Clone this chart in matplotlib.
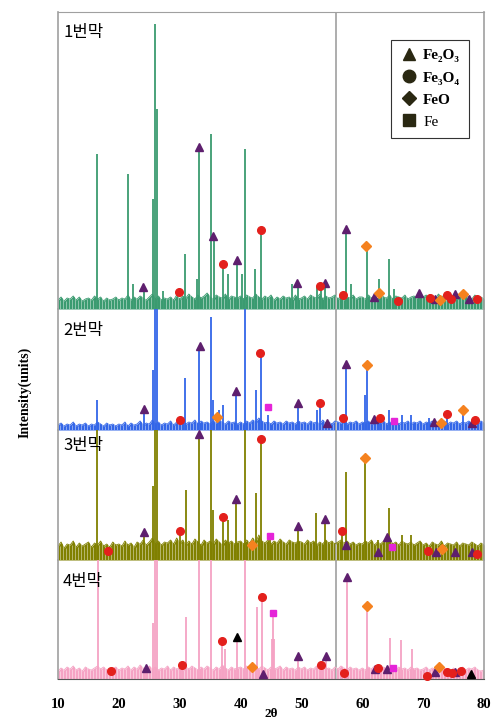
import numpy as np
import matplotlib
matplotlib.use("Agg")
import matplotlib.pyplot as plt
from matplotlib.lines import Line2D

# 2-theta grid for the background noise (0.5 deg steps, 10..80)
noise_x = np.arange(10, 80.01, 0.5)

# background noise, one row per 10 degrees
p1_noise = [9,12,8,11,10,13,9,12,8,10,11,9,13,10,12,8,11,9,10,12,
            9,11,10,14,9,12,10,13,11,9,12,15,10,13,9,11,10,12,9,14,
            10,13,11,15,12,10,14,11,13,16,12,10,14,12,11,15,10,13,12,11,
            13,10,14,12,11,15,12,10,13,11,14,9,12,10,13,11,12,9,14,10,
            11,13,10,14,12,11,15,10,13,11,12,14,10,13,9,12,11,14,10,12,
            12,10,14,11,13,10,15,12,11,14,10,13,12,11,14,10,12,13,11,15,
            12,14,11,13,10,15,12,14,11,13,12,10,14,11,13,12,10,14,11,12, 10]
p2_noise = [5,7,4,6,5,8,4,6,5,7,4,6,5,8,6,4,7,5,6,4,
            6,5,8,4,7,5,6,9,5,7,6,10,6,8,5,7,6,9,5,8,
            7,9,6,8,7,10,6,9,7,8,6,9,7,10,8,6,9,7,8,6,
            8,6,9,7,10,8,12,9,7,8,6,9,7,8,6,9,7,8,6,9,
            7,8,6,9,7,8,6,10,7,8,6,9,8,7,9,6,8,7,9,6,
            8,7,9,6,8,10,7,9,6,8,7,9,6,8,7,9,6,8,7,9,
            6,8,7,9,6,8,7,9,6,8,7,9,6,8,7,9,6,8,7,9, 7]
p3_noise = [14,18,12,16,15,19,13,17,14,16,18,13,17,15,19,14,16,13,18,15,
            16,14,19,15,17,13,18,16,20,15,18,22,16,19,15,18,17,20,16,22,
            17,20,15,19,16,21,18,15,20,17,19,16,21,18,15,20,17,19,16,18,
            19,16,20,17,22,18,25,19,17,20,16,19,17,21,18,16,20,18,17,19,
            18,16,20,17,19,15,18,16,20,17,19,16,18,20,17,19,16,18,15,17,
            16,19,17,20,15,18,16,19,17,21,16,18,15,19,17,16,18,15,17,19,
            15,17,14,18,16,15,19,14,17,16,15,18,14,17,16,15,18,16,14,17, 15]
p4_noise = [8,11,9,12,10,13,9,11,8,12,10,9,11,13,10,12,9,11,10,12,
            9,11,10,13,9,12,10,14,11,9,13,10,12,9,11,10,13,9,12,10,
            11,9,12,10,13,11,9,12,10,13,11,9,12,10,14,11,9,12,10,11,
            12,10,13,11,9,12,10,13,11,9,12,10,11,13,9,12,10,11,9,12,
            10,12,9,11,10,13,9,12,10,11,9,12,10,13,11,9,12,10,11,9,
            11,9,12,10,13,11,9,12,10,11,13,9,12,10,11,9,12,10,11,9,
            10,12,9,11,10,12,9,11,10,8,11,9,10,12,9,11,10,12,9,8, 9]

# peaks (2theta, intensity)
p1_pos = [16.4, 21.5, 22.3, 24.1, 25.6, 26.0, 26.3, 27.3, 30.9, 32.9, 33.2, 35.1, 35.6, 37.1, 37.9, 39.4,
          40.2, 40.7, 42.3, 43.3, 48.5, 49.4, 52.6, 53.2, 53.9, 57.4, 58.2, 60.7, 62.8, 64.4, 65.2, 69.3, 71.2]
p1_h = [155, 135, 25, 20, 110, 285, 200, 18, 55, 30, 160, 175, 70, 43, 35, 47,
        35, 160, 40, 77, 25, 24, 22, 22, 25, 78, 25, 62, 30, 50, 20, 14, 15]
p2_pos = [16.4, 24.1, 25.6, 26.0, 26.2, 30.9, 33.2, 35.1, 35.5, 36.4, 37.1, 39.3, 40.7, 42.5, 43.3, 44.5,
          49.4, 52.5, 53.0, 57.4, 60.5, 60.7, 62.9, 64.4, 66.6, 68.0, 71.0, 73.9, 76.6]
p2_h = [30, 19, 60, 200, 140, 52, 82, 113, 30, 20, 25, 37, 200, 40, 75, 15,
        25, 20, 25, 64, 35, 63, 10, 20, 15, 15, 12, 14, 18]
p3_pos = [16.4, 24.1, 25.6, 26.0, 26.3, 30.0, 31.0, 33.2, 35.1, 35.4, 37.1, 38.0, 39.3, 40.7, 42.6, 43.3,
          44.8, 49.4, 52.4, 53.9, 56.6, 57.4, 60.5, 62.5, 64.1, 64.4, 66.6, 68.0]
p3_h = [200, 26, 74, 300, 200, 27, 70, 124, 200, 50, 41, 40, 59, 200, 67, 119,
        22, 32, 47, 39, 27, 88, 100, 20, 21, 52, 25, 25]
p4_pos = [16.5, 24.5, 25.6, 26.0, 26.3, 30.3, 31.0, 33.2, 35.2, 36.9, 37.5, 39.4, 40.8, 42.7, 43.6,
          45.1, 45.3, 45.5, 49.5, 53.2, 54.1, 57.5, 60.7, 64.5, 66.4, 68.1]
p4_h = [200, 9, 56, 300, 200, 12, 62, 200, 200, 36, 30, 40, 200, 72, 80,
        40, 64, 40, 21, 12, 21, 100, 71, 41, 39, 30]

# phase markers (2theta, marker height)
p1_fe2o3 = [(24.0, 22), (33.2, 162), (35.5, 73), (39.4, 49), (49.3, 26), (53.9, 26), (57.4, 80),
            (61.9, 12), (69.3, 16), (72.0, 10), (75.2, 15), (77.5, 10)]
p1_fe3o4 = [(29.9, 17), (37.1, 45), (43.3, 79), (53.0, 23), (56.8, 14), (65.8, 8), (71.1, 11),
            (73.9, 14), (74.6, 10), (78.8, 10)]
p1_feo = [(60.6, 63), (62.8, 16), (72.8, 9), (76.6, 15)]
p1_fe = []

p2_fe2o3 = [(24.1, 21), (33.3, 84), (39.2, 39), (49.4, 27), (54.2, 7), (57.3, 66), (61.9, 11),
            (71.8, 8), (78.0, 7)]
p2_fe3o4 = [(30.0, 10), (43.2, 77), (53.0, 27), (56.8, 12), (62.9, 12), (73.9, 16), (78.5, 10)]
p2_feo = [(36.1, 13), (60.7, 65), (73.0, 7), (76.6, 20)]
p2_fe = [(44.5, 23), (65.2, 9)]

p3_fe2o3 = [(24.1, 28), (33.2, 126), (39.2, 61), (49.4, 34), (53.9, 41), (57.4, 15), (62.6, 8),
            (64.1, 23), (72.1, 8), (75.2, 8), (78.0, 8)]
p3_fe3o4 = [(18.2, 9), (30.0, 29), (37.1, 43), (43.3, 121), (56.6, 29), (70.8, 9), (78.8, 6)]
p3_feo = [(41.8, 15), (60.5, 102), (73.1, 11)]
p3_fe = [(44.8, 24), (64.9, 13)]

p4_fe2o3 = [(24.5, 11), (43.7, 5), (49.5, 23), (54.1, 23), (57.5, 102), (62.1, 10), (64.0, 10),
            (72.0, 7), (75.3, 7)]
p4_fe3o4 = [(18.7, 8), (30.3, 14), (36.9, 38), (43.6, 82), (53.2, 14), (57.0, 6), (62.5, 11),
            (70.6, 3), (73.9, 7), (74.8, 6), (76.2, 8)]
p4_feo = [(41.8, 12), (60.7, 73), (72.6, 12)]
p4_fe = [(45.3, 66), (65.0, 11)]
p4_other = [(39.4, 42), (77.8, 5)]

panel_names = ["1번막", "2번막", "3번막", "4번막"]
legend_labels = ["Fe₂O₃", "Fe₃O₄", "FeO", "Fe"]
xticks = [10, 20, 30, 40, 50, 60, 70, 80]

colors = ["#3A9B70", "#3366E8", "#808000", "#F5A3C4"]
c_fe2o3, c_fe3o4, c_feo, c_fe = "#5E1F6E", "#E3201C", "#F5821F", "#E524D8"

W, H = 493, 721
bands = [(12, 309), (309, 430), (430, 560), (560, 679)]
label_y = [0.93, 0.82, 0.877, 0.82]

fig = plt.figure(figsize=(W / 100, H / 100), dpi=100)

data = [
    (p1_noise, p1_pos, p1_h, p1_fe2o3, p1_fe3o4, p1_feo, p1_fe, []),
    (p2_noise, p2_pos, p2_h, p2_fe2o3, p2_fe3o4, p2_feo, p2_fe, []),
    (p3_noise, p3_pos, p3_h, p3_fe2o3, p3_fe3o4, p3_feo, p3_fe, []),
    (p4_noise, p4_pos, p4_h, p4_fe2o3, p4_fe3o4, p4_feo, p4_fe, p4_other),
]

frame_c = "#A0A0A0"
for i, (top, bot) in enumerate(bands):
    ax = fig.add_axes([58 / W, 1 - bot / H, 426 / W, (bot - top) / H])
    noise, pos, hh, m1, m2, m3, m4, m5 = data[i]
    c = colors[i]
    ax.fill_between(noise_x, 0, noise, color=c, lw=0)
    ax.plot(noise_x, noise, color=c, lw=0.6)
    ax.vlines(noise_x + 0.25, 0, noise, color="white", lw=0.5, alpha=0.6)
    ax.vlines(pos, 0, hh, color=c, lw=1.3)
    ax.axvline(55.7, color=frame_c, lw=1.2, zorder=1)

    for pts, mk, mc, ms in [(m1, "^", c_fe2o3, 6), (m2, "o", c_fe3o4, 5.5),
                            (m3, "D", c_feo, 5), (m4, "s", c_fe, 5), (m5, "^", "black", 6)]:
        if pts:
            px = [p[0] for p in pts]
            py = [p[1] for p in pts]
            ax.plot(px, py, ls="none", marker=mk, color=mc, ms=ms, mec=mc, zorder=5, clip_on=False)

    ax.set_xlim(10, 80)
    ax.set_ylim(0, bot - top)
    ax.set_yticks([])
    ax.set_facecolor("none")
    for s in ["left", "right"]:
        ax.spines[s].set_color(frame_c)
        ax.spines[s].set_linewidth(1.2)
    ax.spines["top"].set_visible(i == 0)
    ax.spines["top"].set_color(frame_c)
    ax.spines["bottom"].set_visible(i == 3)
    ax.spines["bottom"].set_color("#555555")
    if i == 3:
        ax.set_xticks(xticks)
        ax.set_xticklabels([str(t) for t in xticks],
                           fontfamily=["Liberation Serif", "DejaVu Serif"],
                           fontweight="bold", fontsize=10.5)
        ax.tick_params(axis="x", length=0, pad=14)
    else:
        ax.set_xticks([])

    ax.text(0.012, label_y[i], panel_names[i], transform=ax.transAxes, fontsize=12,
            family=["Noto Sans CJK KR", "DejaVu Sans"], va="center", ha="left")

    if i == 0:
        handles = [Line2D([], [], ls="none", marker=m, color="#2A2812", ms=s)
                   for m, s in [("^", 9), ("o", 9), ("D", 7.5), ("s", 8)]]
        leg = ax.legend(handles, legend_labels, loc="upper right",
                        bbox_to_anchor=(477 / W, 1 - 32 / H), bbox_transform=fig.transFigure,
                        prop={"family": ["Liberation Serif", "DejaVu Serif"], "weight": "bold", "size": 11},
                        frameon=True, fancybox=False, edgecolor="#333333", framealpha=1,
                        handletextpad=0.3, handlelength=1.2, labelspacing=0.55, borderpad=0.6)
        leg.get_frame().set_linewidth(0.8)
        leg.get_texts()[3].set_fontweight("normal")

fig.text(25 / W, 1 - 392 / H, "Intensity(units)", rotation=90, ha="center", va="center",
         fontsize=10, fontweight="bold", family=["Liberation Serif", "DejaVu Serif"])
fig.text(271 / W, 1 - 720 / H, "2θ", ha="center", va="bottom",
         fontsize=9.5, fontweight="bold", family=["Liberation Serif", "DejaVu Serif"])

fig.savefig("out.png", dpi=100)
